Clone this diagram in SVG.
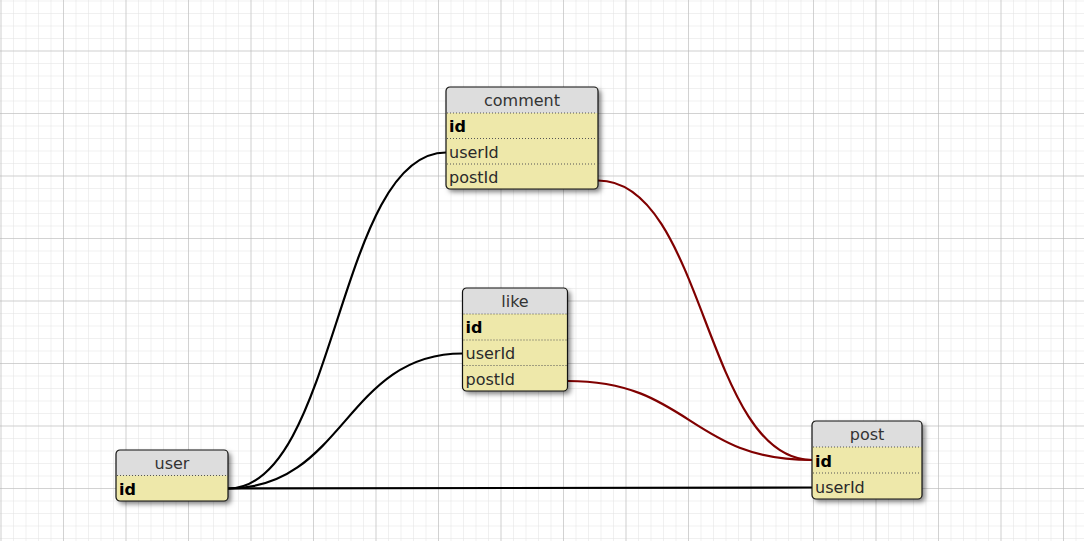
<svg xmlns="http://www.w3.org/2000/svg" width="1084" height="541" viewBox="0 0 1084 541">
  <defs>
    <pattern id="minor" patternUnits="userSpaceOnUse" x="0.5" y="0.5" width="12.5" height="12.5">
      <path d="M0,0 H12.5 M0,0 V12.5" fill="none" stroke="#e2e2e2" stroke-width="1"/>
    </pattern>
    <pattern id="major" patternUnits="userSpaceOnUse" x="0.5" y="50.5" width="62.5" height="62.5">
      <path d="M0,0 H62.5 M0,0 V62.5" fill="none" stroke="#b4b4b4" stroke-width="1"/>
    </pattern>
    <filter id="shadow" x="-20%" y="-20%" width="140%" height="140%">
      <feDropShadow dx="3" dy="3" stdDeviation="2.5" flood-color="#000" flood-opacity="0.5"/>
    </filter>
  </defs>
  <style>
    .body { fill: #eee8aa; filter: url(#shadow); }
    .head { fill: #dddddd; }
    .frame { fill: none; stroke: #111; stroke-width: 1.2; }
    .sep { stroke: #555; stroke-width: 1; stroke-dasharray: 1 2; }
    .title { font-family: "DejaVu Sans", sans-serif; font-size: 16px; fill: #333; text-anchor: middle; }
    .field { font-family: "DejaVu Sans", sans-serif; font-size: 16px; fill: #2a2a2a; }
    .pk { font-family: "DejaVu Sans", sans-serif; font-size: 16px; font-weight: bold; fill: #000; }
    .link { fill: none; stroke: #000; stroke-width: 2.2; }
    .fk { fill: none; stroke: #800000; stroke-width: 2.2; }
  </style>
  <rect width="1084" height="541" fill="#ffffff"/>
  <rect width="1084" height="541" fill="url(#minor)"/>
  <rect width="1084" height="541" fill="url(#major)"/>

  <g id="connectors">
    <path class="link" d="M228,488.5 C337,488.5 337,152.5 446,152.5"/>
    <path class="link" d="M228,488.5 C345,488.5 345,353.5 462.5,353.5"/>
    <path class="link" d="M228,488.5 L812,487.5"/>
    <path class="fk" d="M598,180.5 C705,180.5 705,460 812,460"/>
    <path class="fk" d="M567.5,381 C690,381 690,460 812,460"/>
  </g>

  <g id="comment" transform="translate(446,87)">
    <rect class="body" x="0" y="0" width="152" height="102" rx="4"/>
    <path class="head" d="M0,26 V4 Q0,0 4,0 H148 Q152,0 152,4 V26 Z"/>
    <line class="sep" x1="1" y1="26" x2="151" y2="26"/>
    <line class="sep" x1="1" y1="51.5" x2="151" y2="51.5"/>
    <line class="sep" x1="1" y1="77" x2="151" y2="77"/>
    <rect class="frame" x="0" y="0" width="152" height="102" rx="4"/>
    <text class="title" x="76" y="19">comment</text>
    <text class="pk" x="3" y="45">id</text>
    <text class="field" x="3" y="70.5">userId</text>
    <text class="field" x="3" y="96">postId</text>
  </g>

  <g id="like" transform="translate(462.5,288)">
    <rect class="body" x="0" y="0" width="105" height="103" rx="4"/>
    <path class="head" d="M0,26 V4 Q0,0 4,0 H101 Q105,0 105,4 V26 Z"/>
    <line class="sep" x1="1" y1="26" x2="104" y2="26"/>
    <line class="sep" x1="1" y1="52" x2="104" y2="52"/>
    <line class="sep" x1="1" y1="77.5" x2="104" y2="77.5"/>
    <rect class="frame" x="0" y="0" width="105" height="103" rx="4"/>
    <text class="title" x="52.5" y="19">like</text>
    <text class="pk" x="3" y="45">id</text>
    <text class="field" x="3" y="71">userId</text>
    <text class="field" x="3" y="96.5">postId</text>
  </g>

  <g id="user" transform="translate(116,450)">
    <rect class="body" x="0" y="0" width="112" height="51" rx="4"/>
    <path class="head" d="M0,25.5 V4 Q0,0 4,0 H108 Q112,0 112,4 V25.5 Z"/>
    <line class="sep" x1="1" y1="25.5" x2="111" y2="25.5"/>
    <rect class="frame" x="0" y="0" width="112" height="51" rx="4"/>
    <text class="title" x="56" y="19">user</text>
    <text class="pk" x="3" y="45">id</text>
  </g>

  <g id="post" transform="translate(812,421)">
    <rect class="body" x="0" y="0" width="110" height="78" rx="4"/>
    <path class="head" d="M0,26 V4 Q0,0 4,0 H106 Q110,0 110,4 V26 Z"/>
    <line class="sep" x1="1" y1="26" x2="109" y2="26"/>
    <line class="sep" x1="1" y1="52" x2="109" y2="52"/>
    <rect class="frame" x="0" y="0" width="110" height="78" rx="4"/>
    <text class="title" x="55" y="19">post</text>
    <text class="pk" x="3" y="45.5">id</text>
    <text class="field" x="3" y="71.5">userId</text>
  </g>
</svg>
